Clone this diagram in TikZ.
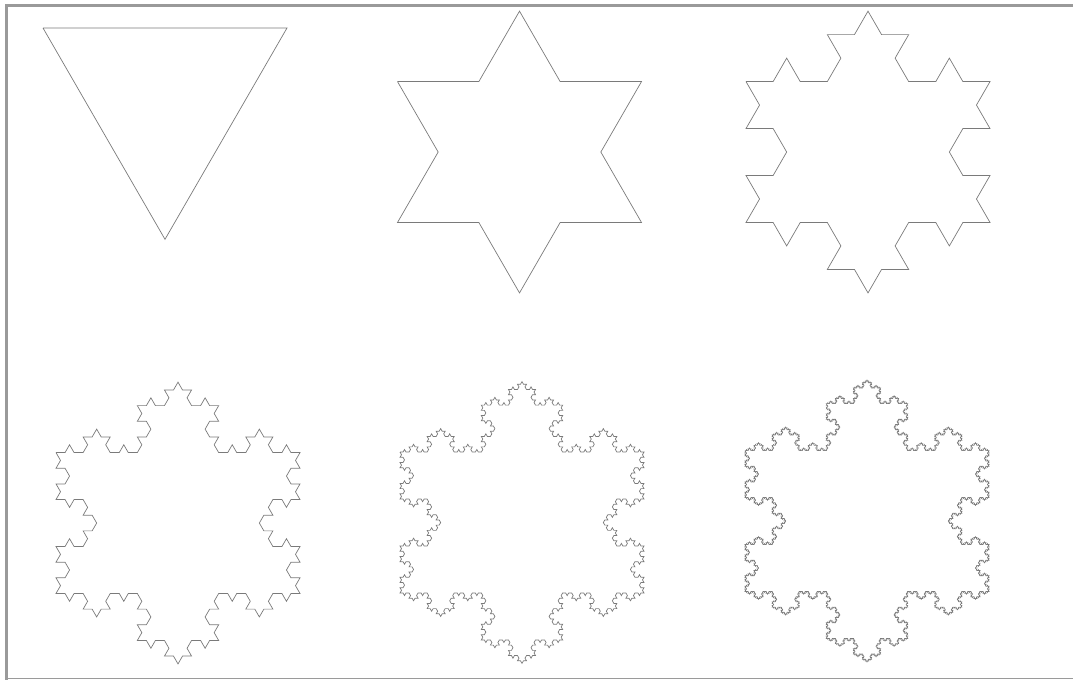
\documentclass[tikz,border=0pt]{standalone}
\usepackage{xcolor}
\usepackage{tikz}
\usetikzlibrary{lindenmayersystems}
\definecolor{framegray}{HTML}{9A9A9A}
\definecolor{kochgray}{HTML}{7A7A7A}

\pgfdeclarelindenmayersystem{Koch snowflake}{\rule{F -> F+F--F+F}}

\begin{document}
\begin{tikzpicture}[
  frame/.style={fill=framegray,draw=none},
  flake/.style={draw=kochgray,line width=0.5pt,line join=miter}]
\useasboundingbox (0,0) rectangle (26.825,17.025);
% frame round the page
\fill[frame] (0.125,16.85) rectangle (26.825,16.925);
\fill[frame] (0.125,0.025) rectangle (0.2,16.925);
\draw[framegray,line width=0.7pt] (0.125,0.075) -- (26.825,0.075);
% top row: orders 0, 1, 2
\begin{scope}[shift={(1.075,16.325)}]
\draw[flake,lindenmayer system={Koch snowflake, axiom=F--F--F, order=0, step=6.1cm, angle=60}]
  lindenmayer system;
\end{scope}
\begin{scope}[shift={(9.9375,14.985)}]
\draw[flake,lindenmayer system={Koch snowflake, axiom=F--F--F, order=1, step=2.03333cm, angle=60}]
  lindenmayer system;
\end{scope}
\begin{scope}[shift={(18.65,14.985)}]
\draw[flake,lindenmayer system={Koch snowflake, axiom=F--F--F, order=2, step=0.67778cm, angle=60}]
  lindenmayer system;
\end{scope}
% bottom row: orders 3, 4, 5
\begin{scope}[shift={(1.4,5.71)}]
\draw[flake,lindenmayer system={Koch snowflake, axiom=F--F--F, order=3, step=0.22593cm, angle=60}]
  lindenmayer system;
\end{scope}
\begin{scope}[shift={(10.0,5.7225)}]
\draw[flake,lindenmayer system={Koch snowflake, axiom=F--F--F, order=4, step=0.075309cm, angle=60}]
  lindenmayer system;
\end{scope}
\begin{scope}[shift={(18.625,5.76)}]
\draw[flake,lindenmayer system={Koch snowflake, axiom=F--F--F, order=5, step=0.025103cm, angle=60}]
  lindenmayer system;
\end{scope}
\end{tikzpicture}
\end{document}
